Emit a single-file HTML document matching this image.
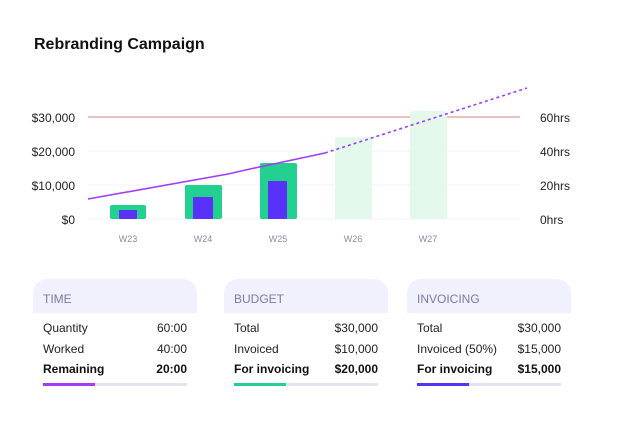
<!DOCTYPE html><html><head><style>
body{margin:0;width:620px;height:430px;background:#fff;font-family:"Liberation Sans",sans-serif;position:relative;overflow:hidden}
.t{position:absolute;left:34px;top:36px;font-size:16px;font-weight:bold;color:#111}
.card{position:absolute;top:279px;width:164px}
.hd{height:34px;background:#f0f1fd;border-radius:14px 14px 0 0;color:#7a7aa6;font-size:12px;line-height:40px;padding-left:10px}
.row{display:flex;justify-content:space-between;padding:0 10px;font-size:12px;color:#222;height:20.5px;line-height:20.5px}
.first{margin-top:5px}
.b{font-weight:bold;color:#111}
.bar{margin:3px 10px 0;height:3px;background:#e2e4f3;position:relative}
.bar i{position:absolute;left:0;top:0;height:3px;width:52px}
</style></head><body>
<div class="t">Rebranding Campaign</div>
<svg width="620" height="260" style="position:absolute;left:0;top:0" font-family="Liberation Sans,sans-serif">
<g stroke="#f2f3fa"><line x1="88" x2="520" y1="151" y2="151"/><line x1="88" x2="520" y1="185" y2="185"/><line x1="88" x2="520" y1="219" y2="219"/></g>
<line x1="88" x2="520" y1="117" y2="117" stroke="#d98080" stroke-width="1"/>
<g font-size="12" fill="#222" text-anchor="end"><text x="75" y="122">$30,000</text><text x="75" y="156">$20,000</text><text x="75" y="190">$10,000</text><text x="75" y="224">$0</text></g>
<g font-size="12" fill="#222"><text x="540" y="122">60hrs</text><text x="540" y="156">40hrs</text><text x="540" y="190">20hrs</text><text x="540" y="224">0hrs</text></g>
<g font-size="9" fill="#8a8aa8" text-anchor="middle"><text x="128" y="242">W23</text><text x="203" y="242">W24</text><text x="278" y="242">W25</text><text x="353" y="242">W26</text><text x="428" y="242">W27</text></g>
<g fill="#22d08f"><rect x="110" y="205" width="36" height="14" rx="2"/><rect x="185" y="185" width="37" height="34" rx="2"/><rect x="260" y="163" width="37" height="56" rx="2"/></g>
<g fill="#e4f8eb"><rect x="335" y="137" width="37" height="82" rx="2"/><rect x="410" y="111" width="37" height="108" rx="2"/></g>
<g fill="#5a30fb"><rect x="119" y="210" width="18" height="9" rx="1"/><rect x="193" y="197" width="20" height="22" rx="1"/><rect x="268" y="181" width="19" height="38" rx="1"/></g>
<polyline points="88,199 228,174 250,169 325,153" fill="none" stroke="#a23cf5" stroke-width="1.6"/>
<line x1="325" y1="153" x2="527" y2="88" stroke="#a23cf5" stroke-width="1.6" stroke-dasharray="3,3"/>
</svg>
<div class="card" style="left:33px"><div class="hd">TIME</div>
<div class="row first"><span>Quantity</span><span>60:00</span></div><div class="row"><span>Worked</span><span>40:00</span></div><div class="row b"><span>Remaining</span><span>20:00</span></div>
<div class="bar"><i style="background:#a23cf5"></i></div></div>
<div class="card" style="left:224px"><div class="hd">BUDGET</div>
<div class="row first"><span>Total</span><span>$30,000</span></div><div class="row"><span>Invoiced</span><span>$10,000</span></div><div class="row b"><span>For invoicing</span><span>$20,000</span></div>
<div class="bar"><i style="background:#22d08f"></i></div></div>
<div class="card" style="left:407px"><div class="hd">INVOICING</div>
<div class="row first"><span>Total</span><span>$30,000</span></div><div class="row"><span>Invoiced (50%)</span><span>$15,000</span></div><div class="row b"><span>For invoicing</span><span>$15,000</span></div>
<div class="bar"><i style="background:#5a30fb"></i></div></div>
</body></html>
